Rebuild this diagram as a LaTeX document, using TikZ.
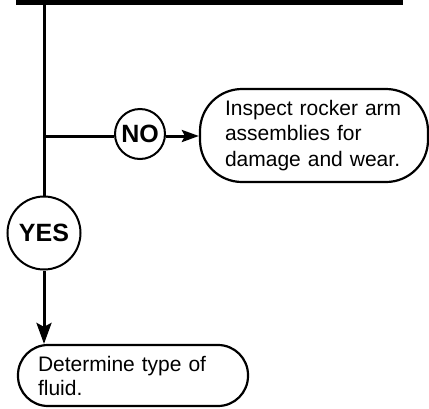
\documentclass[tikz,border=0pt]{standalone}
\usepackage{fontspec}
\setmainfont{Liberation Sans}
\usetikzlibrary{arrows.meta}
\begin{document}
\begin{tikzpicture}[x=1pt,y=-1pt,
  flow/.style={line width=3pt},
  answer/.style={circle, draw, line width=2pt, inner sep=0pt, fill=white,
    font=\fontsize{25}{25}\selectfont\bfseries},
  action/.style={draw, line width=2.2pt, fill=white, align=left, anchor=center}]
  \useasboundingbox (0,0) rectangle (429,408);

  % heavy bar along the top edge
  \node (bar) [fill=black, inner sep=0pt, minimum width=387pt, minimum height=4.8pt] at (209.5,2.4) {};

  % decision answers
  \node (no)  [answer, minimum size=50pt] at (140,134) {NO};
  \node (yes) [answer, minimum size=73pt] at (44,233) {YES};

  % action boxes
  \node (inspect) [action, rounded corners=42pt, minimum width=228pt, minimum height=93pt,
    text width=178pt, inner xsep=25pt, font=\fontsize{21}{25.6}\selectfont] at (314,135.5)
    {Inspect rocker arm\\assemblies for\\damage and wear.};
  \node (fluid) [action, rounded corners=30pt, minimum width=230pt, minimum height=61pt,
    text width=190pt, inner xsep=20pt, font=\fontsize{21}{24}\selectfont] at (133,375.5)
    {Determine type of\\fluid.};

  % connectors
  \coordinate (drop) at (44,4);
  \coordinate (branch) at (44,136);
  \draw[flow] (drop) -- (yes.north);
  \draw[flow] (branch) -- (branch -| no.west);
  \draw[flow, -{Stealth[length=17pt, width=12pt, inset=3pt]}] (no.east |- branch) -- (branch -| inspect.west);
  \draw[flow, -{Stealth[length=21pt, width=15pt, inset=4pt]}] (yes.south) -- (fluid.north -| yes.south);
\end{tikzpicture}
\end{document}
